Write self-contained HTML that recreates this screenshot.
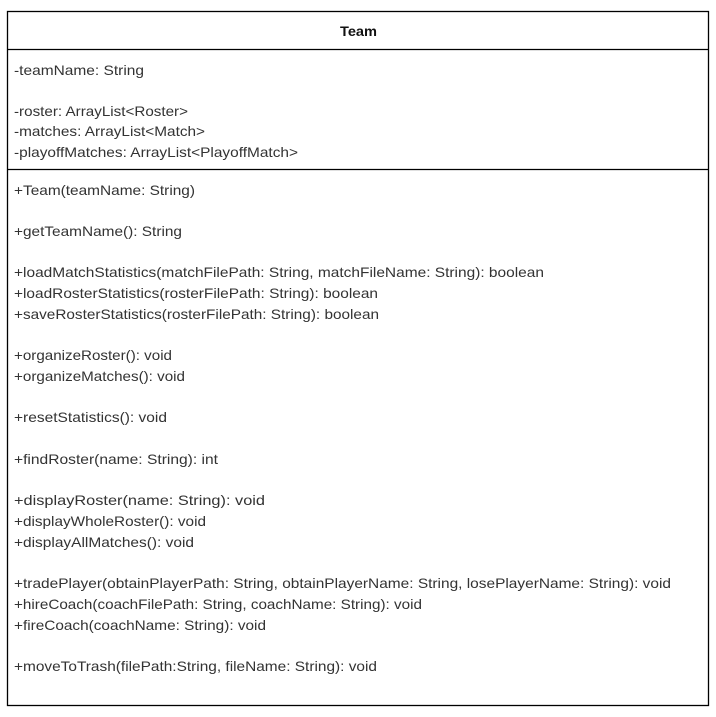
<!DOCTYPE html>
<html><head><meta charset="utf-8"><style>
html,body{margin:0;padding:0;background:#fff;width:716px;height:717px;overflow:hidden}
svg{display:block}
text{font-family:"Liberation Sans",sans-serif;font-size:14px;fill:#333}
</style></head><body>
<svg width="716" height="717" xmlns="http://www.w3.org/2000/svg">
<rect x="7.5" y="11.5" width="701" height="694" fill="#fff" stroke="#000" stroke-width="1.3"/>
<line x1="7" y1="49.5" x2="709" y2="49.5" stroke="#000" stroke-width="1.3"/>
<line x1="7" y1="169.5" x2="709" y2="169.5" stroke="#000" stroke-width="1.3"/>
<text x="340" y="36" textLength="37" lengthAdjust="spacingAndGlyphs" style="font-weight:bold;fill:#111">Team</text>
<g lengthAdjust="spacingAndGlyphs">
<text x="14" y="75" textLength="130" lengthAdjust="spacingAndGlyphs">-teamName: String</text>
<text x="14" y="116" textLength="174" lengthAdjust="spacingAndGlyphs">-roster: ArrayList&lt;Roster&gt;</text>
<text x="14" y="136" textLength="191" lengthAdjust="spacingAndGlyphs">-matches: ArrayList&lt;Match&gt;</text>
<text x="14" y="157" textLength="284" lengthAdjust="spacingAndGlyphs">-playoffMatches: ArrayList&lt;PlayoffMatch&gt;</text>
<text x="14" y="195" textLength="181" lengthAdjust="spacingAndGlyphs">+Team(teamName: String)</text>
<text x="14" y="236" textLength="168" lengthAdjust="spacingAndGlyphs">+getTeamName(): String</text>
<text x="14" y="277" textLength="530" lengthAdjust="spacingAndGlyphs">+loadMatchStatistics(matchFilePath: String, matchFileName: String): boolean</text>
<text x="14" y="298" textLength="364" lengthAdjust="spacingAndGlyphs">+loadRosterStatistics(rosterFilePath: String): boolean</text>
<text x="14" y="319" textLength="365" lengthAdjust="spacingAndGlyphs">+saveRosterStatistics(rosterFilePath: String): boolean</text>
<text x="14" y="360" textLength="158" lengthAdjust="spacingAndGlyphs">+organizeRoster(): void</text>
<text x="14" y="381" textLength="171" lengthAdjust="spacingAndGlyphs">+organizeMatches(): void</text>
<text x="14" y="422" textLength="153" lengthAdjust="spacingAndGlyphs">+resetStatistics(): void</text>
<text x="14" y="464" textLength="204" lengthAdjust="spacingAndGlyphs">+findRoster(name: String): int</text>
<text x="14" y="505" textLength="251" lengthAdjust="spacingAndGlyphs">+displayRoster(name: String): void</text>
<text x="14" y="526" textLength="192" lengthAdjust="spacingAndGlyphs">+displayWholeRoster(): void</text>
<text x="14" y="547" textLength="180" lengthAdjust="spacingAndGlyphs">+displayAllMatches(): void</text>
<text x="14" y="588" textLength="657" lengthAdjust="spacingAndGlyphs">+tradePlayer(obtainPlayerPath: String, obtainPlayerName: String, losePlayerName: String): void</text>
<text x="14" y="609" textLength="408" lengthAdjust="spacingAndGlyphs">+hireCoach(coachFilePath: String, coachName: String): void</text>
<text x="14" y="630" textLength="252" lengthAdjust="spacingAndGlyphs">+fireCoach(coachName: String): void</text>
<text x="14" y="671" textLength="363" lengthAdjust="spacingAndGlyphs">+moveToTrash(filePath:String, fileName: String): void</text>
</g>
</svg>
</body></html>
